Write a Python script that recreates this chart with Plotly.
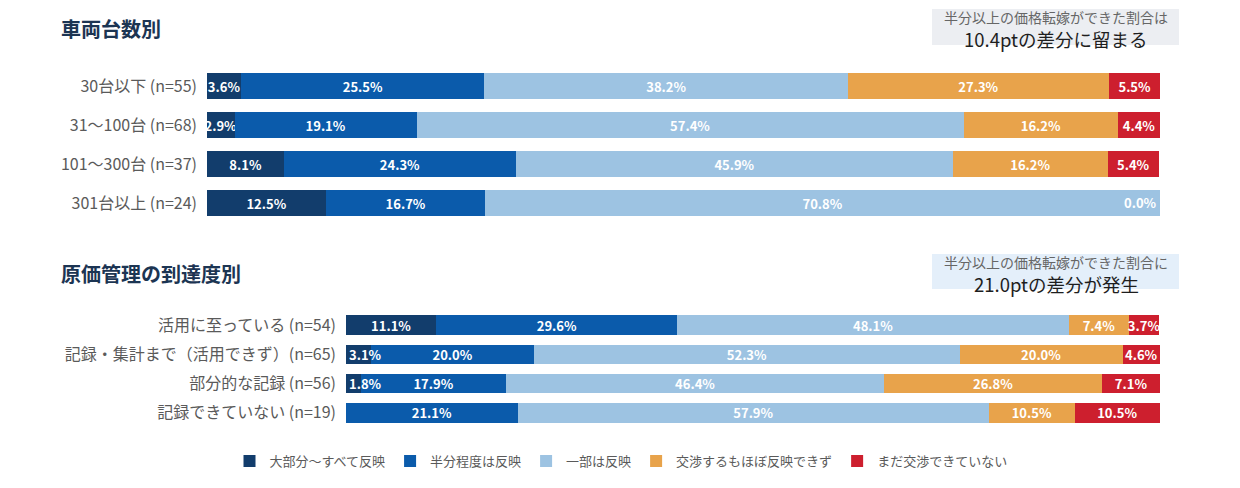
import plotly.graph_objects as go

# 凡例（回答区分）
segments = ["大部分～すべて反映", "半分程度は反映", "一部は反映", "交渉するもほぼ反映できず", "まだ交渉できていない"]
colors = ["#123d6c", "#0b5bab", "#9dc3e2", "#e8a34b", "#cd1f2e"]

# 車両台数別
fleet_labels = ["30台以下 (n=55)", "31～100台 (n=68)", "101～300台 (n=37)", "301台以上 (n=24)"]
fleet_values = [
    [3.6, 2.9, 8.1, 12.5],
    [25.5, 19.1, 24.3, 16.7],
    [38.2, 57.4, 45.9, 70.8],
    [27.3, 16.2, 16.2, 0.0],
    [5.5, 4.4, 5.4, 0.0],
]

# 原価管理の到達度別
cost_labels = ["活用に至っている (n=54)", "記録・集計まで（活用できず）(n=65)", "部分的な記録 (n=56)", "記録できていない (n=19)"]
cost_values = [
    [11.1, 3.1, 1.8, 0.0],
    [29.6, 20.0, 17.9, 21.1],
    [48.1, 52.3, 46.4, 57.9],
    [7.4, 20.0, 26.8, 10.5],
    [3.7, 4.6, 7.1, 10.5],
]

FONT = "Noto Sans CJK JP"
W, H = 1240, 488
OFF = 8  # ページ本体の余白分
LABEL_FONT = dict(color="white", size=13, family=FONT, weight="bold")


def px(x):
    return (x - OFF) / W


def py(y):
    return 1 - (y - OFF) / H


fig = go.Figure()

groups = [(fleet_labels, fleet_values, "x", "y", True),
          (cost_labels, cost_values, "x2", "y2", False)]
for labels, values, xa, ya, legend in groups:
    for i, name in enumerate(segments):
        vals = values[i]
        txt = []
        for j, v in enumerate(vals):
            if v <= 0:
                txt.append("")
            elif xa == "x2" and i == 0 and v < 5:
                # 下段の細い先頭区分は左寄せの注記で描く
                txt.append("")
                fig.add_annotation(text=f"<b>{v:.1f}%</b>", x=0, y=labels[j], xref=xa, yref=ya,
                                   xanchor="left", yanchor="middle", xshift=1, showarrow=False,
                                   font=dict(size=13, color="white", family=FONT))
            else:
                txt.append(f"{v:.1f}%")
        fig.add_trace(go.Bar(
            y=labels, x=vals, name=name, orientation="h",
            marker=dict(color=colors[i], line=dict(width=0)),
            text=txt, textposition="inside", insidetextanchor="middle", textangle=0,
            textfont=LABEL_FONT,
            xaxis=xa, yaxis=ya, legendgroup=name, showlegend=legend,
            hoverinfo="x+name",
        ))

# 301台以上の 0.0% ラベル（幅ゼロの区分）
row = 3
end_x = sum(fleet_values[k][row] for k in range(4))
fig.add_annotation(text="<b>0.0%</b>", x=end_x, y=fleet_labels[row], xref="x", yref="y",
                   xanchor="right", yanchor="middle", xshift=-1, showarrow=False,
                   font=dict(size=13, color="white", family=FONT))

axis_common = dict(range=[0, 100], showgrid=False, zeroline=False, showticklabels=False, fixedrange=True)
ycommon = dict(autorange="reversed", showgrid=False, zeroline=False, ticks="", ticklabelstandoff=9,
               tickfont=dict(size=16, color="#5a5a5a", family=FONT))

fig.update_layout(
    width=W, height=H,
    margin=dict(l=0, r=0, t=0, b=0),
    paper_bgcolor="white", plot_bgcolor="white",
    barmode="stack", bargap=0.34,
    uniformtext=dict(minsize=13, mode="show"),
    font=dict(family=FONT, color="#5a5a5a"),
    xaxis=dict(domain=[px(207), px(1160)], anchor="y", **axis_common),
    yaxis=dict(domain=[py(222.5), py(66.5)], anchor="x", **ycommon),
    xaxis2=dict(domain=[px(346), px(1160)], anchor="y2", **axis_common),
    yaxis2=dict(domain=[py(427.5), py(310.5)], anchor="x2", **ycommon),
    legend=dict(orientation="h", x=px(621), xanchor="center", y=py(461), yanchor="middle",
                font=dict(size=13, color="#5a5a5a", family=FONT),
                itemwidth=30, traceorder="normal"),
    showlegend=True,
)

# 見出し
for text, yy in [("車両台数別", 28), ("原価管理の到達度別", 273)]:
    fig.add_annotation(text=f"<b>{text}</b>", xref="paper", yref="paper",
                       x=px(59), y=py(yy), xanchor="left", yanchor="middle",
                       showarrow=False, font=dict(size=20, color="#1c3553", family=FONT))

# 吹き出しボックス
boxes = [
    (9, 45, "#eceef2", "半分以上の価格転嫁ができた割合は", "10.4ptの差分に留まる"),
    (254, 289, "#e4effa", "半分以上の価格転嫁ができた割合に", "21.0ptの差分が発生"),
]
for top, bottom, bg, line1, line2 in boxes:
    fig.add_shape(type="rect", xref="paper", yref="paper",
                  x0=px(932), x1=px(1179), y0=py(bottom), y1=py(top),
                  fillcolor=bg, line=dict(width=0), layer="below")
    fig.add_annotation(text=line1, xref="paper", yref="paper",
                       x=px(1056), y=py(top + 8), xanchor="center", yanchor="middle",
                       showarrow=False, font=dict(size=14, color="#666666", family=FONT))
    fig.add_annotation(text=line2, xref="paper", yref="paper",
                       x=px(1056), y=py(top + 30), xanchor="center", yanchor="middle",
                       showarrow=False, font=dict(size=18.5, color="#1e1e1e", family=FONT))

fig.write_html("out.html")
